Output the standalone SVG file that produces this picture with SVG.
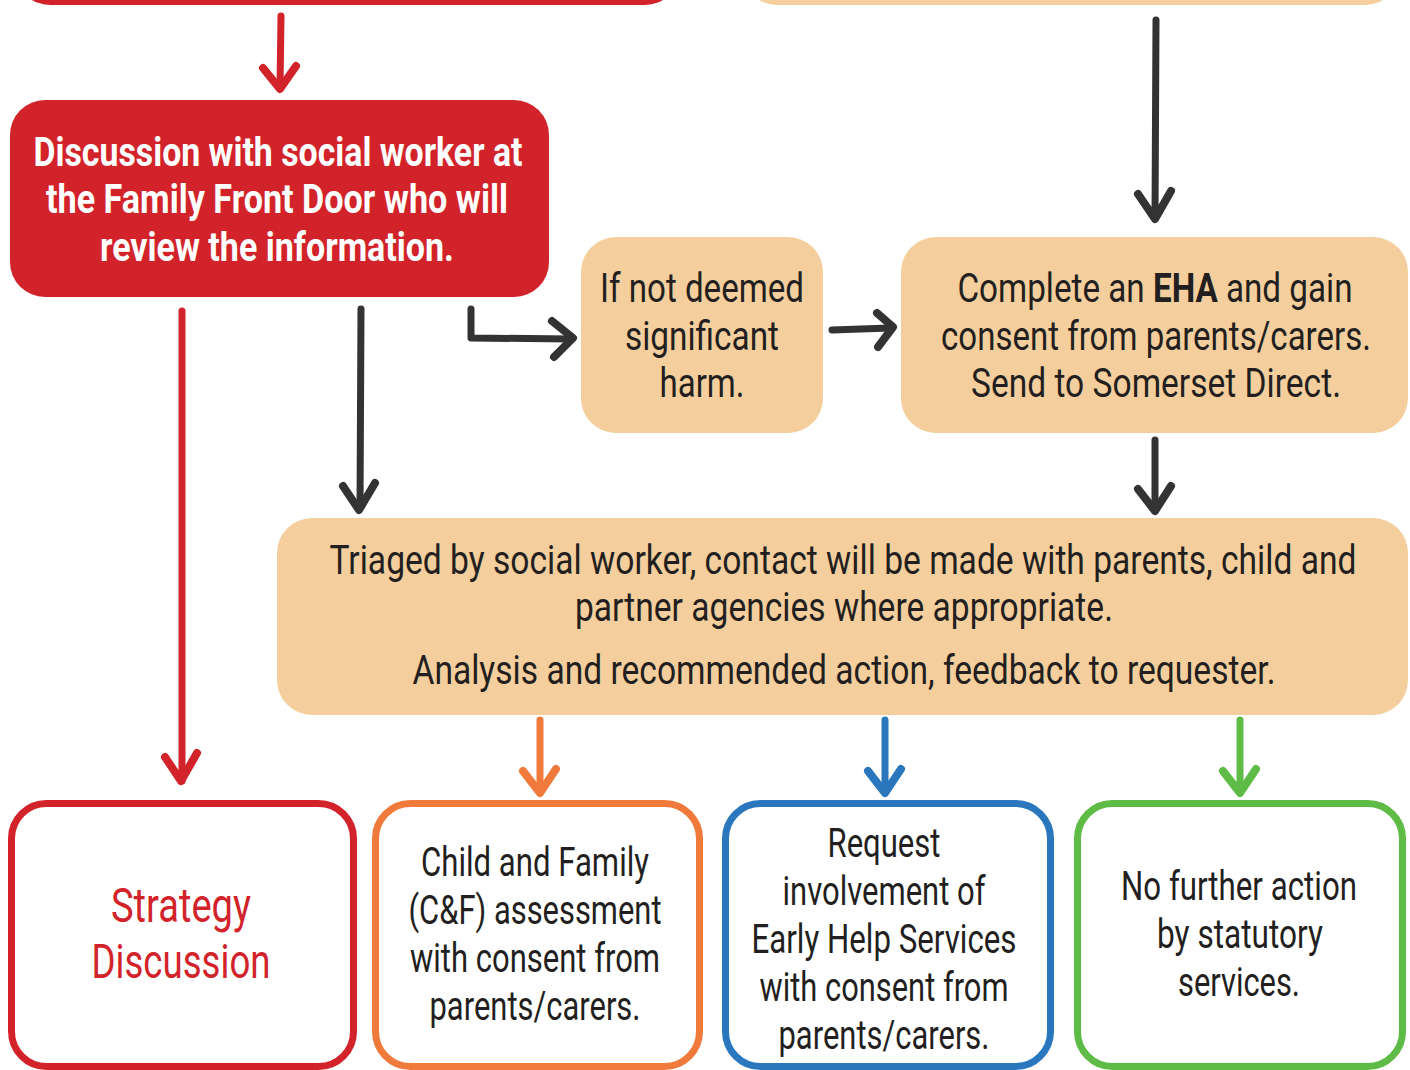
<svg xmlns="http://www.w3.org/2000/svg" width="1410" height="1070" viewBox="0 0 1410 1070">
<style>
text{font-family:Roboto,"Liberation Sans",sans-serif;font-size:40px;text-anchor:middle;fill:#231f20}
.w{fill:#fff;font-weight:bold}
.r{fill:#d2232a;font-size:48px}
.ar{fill:none;stroke-width:7;stroke-linecap:round;stroke-linejoin:round}
.hd{fill:none;stroke-width:8;stroke-linecap:round;stroke-linejoin:round}
.ob{fill:#fff;stroke-width:7}
</style>
<rect width="1410" height="1070" fill="#fff"/>
<g id="top-red"><rect x="15" y="-100" width="665" height="105" rx="35" fill="#d2232a"/></g>
<g id="top-peach"><rect x="742" y="-100" width="658" height="105" rx="35" fill="#f4cf9d"/></g>
<g id="discussion">
<rect x="10" y="100" width="539" height="197" rx="35" fill="#d2232a"/>
<text class="w" x="278" y="166" textLength="489" lengthAdjust="spacingAndGlyphs">Discussion with social worker at</text>
<text class="w" x="277" y="213" textLength="462" lengthAdjust="spacingAndGlyphs">the Family Front Door who will</text>
<text class="w" x="277" y="261" textLength="354" lengthAdjust="spacingAndGlyphs">review the information.</text>
</g>
<g id="not-deemed">
<rect x="581" y="237" width="242" height="196" rx="35" fill="#f4cf9d"/>
<text x="702" y="302" textLength="204" lengthAdjust="spacingAndGlyphs">If not deemed</text>
<text x="702" y="350" textLength="154" lengthAdjust="spacingAndGlyphs">significant</text>
<text x="702" y="397" textLength="85" lengthAdjust="spacingAndGlyphs">harm.</text>
</g>
<g id="eha">
<rect x="901" y="237" width="507" height="196" rx="35" fill="#f4cf9d"/>
<text x="1155" y="302" textLength="395" lengthAdjust="spacingAndGlyphs">Complete an <tspan font-weight="bold">EHA</tspan> and gain</text>
<text x="1156" y="350" textLength="430" lengthAdjust="spacingAndGlyphs">consent from parents/carers.</text>
<text x="1156" y="397" textLength="370" lengthAdjust="spacingAndGlyphs">Send to Somerset Direct.</text>
</g>
<g id="triage">
<rect x="277" y="518" width="1131" height="197" rx="35" fill="#f4cf9d"/>
<text x="843" y="574" textLength="1027" lengthAdjust="spacingAndGlyphs">Triaged by social worker, contact will be made with parents, child and</text>
<text x="844" y="621" textLength="538" lengthAdjust="spacingAndGlyphs">partner agencies where appropriate.</text>
<text x="844" y="684" textLength="863" lengthAdjust="spacingAndGlyphs">Analysis and recommended action, feedback to requester.</text>
</g>
<g id="strategy">
<rect class="ob" x="11.5" y="803.5" width="342" height="263" rx="35" stroke="#d2232a"/>
<text class="r" x="181" y="922" textLength="140" lengthAdjust="spacingAndGlyphs">Strategy</text>
<text class="r" x="181" y="978" textLength="179" lengthAdjust="spacingAndGlyphs">Discussion</text>
</g>
<g id="cf">
<rect class="ob" x="375.5" y="803.5" width="324" height="263" rx="35" stroke="#ef7a3c"/>
<text x="535" y="876" textLength="228" lengthAdjust="spacingAndGlyphs">Child and Family</text>
<text x="535" y="924" textLength="253" lengthAdjust="spacingAndGlyphs">(C&amp;F) assessment</text>
<text x="535" y="972" textLength="250" lengthAdjust="spacingAndGlyphs">with consent from</text>
<text x="535" y="1020" textLength="211" lengthAdjust="spacingAndGlyphs">parents/carers.</text>
</g>
<g id="early-help">
<rect class="ob" x="725.5" y="803.5" width="325" height="263" rx="35" stroke="#2a77bd"/>
<text x="884" y="857" textLength="113" lengthAdjust="spacingAndGlyphs">Request</text>
<text x="884" y="905" textLength="203" lengthAdjust="spacingAndGlyphs">involvement of</text>
<text x="884" y="953" textLength="265" lengthAdjust="spacingAndGlyphs">Early Help Services</text>
<text x="884" y="1001" textLength="249" lengthAdjust="spacingAndGlyphs">with consent from</text>
<text x="884" y="1049" textLength="211" lengthAdjust="spacingAndGlyphs">parents/carers.</text>
</g>
<g id="nfa">
<rect class="ob" x="1077.5" y="803.5" width="325" height="263" rx="35" stroke="#5dbb46"/>
<text x="1239" y="900" textLength="236" lengthAdjust="spacingAndGlyphs">No further action</text>
<text x="1240" y="948" textLength="166" lengthAdjust="spacingAndGlyphs">by statutory</text>
<text x="1239" y="996" textLength="122" lengthAdjust="spacingAndGlyphs">services.</text>
</g>
<g id="connectors">
<g stroke="#d2232a">
<path class="ar" d="M281,16 L280,88"/><path class="hd" d="M263,68 L280,89 L296,66"/>
<path class="ar" d="M182,311 L182,781" stroke-linecap="butt"/><path class="hd" d="M165,757 L181,781 L197,753"/>
</g>
<g stroke="#333">
<path class="ar" d="M1156,20 L1155,218" stroke-width="8" stroke-linecap="butt"/><path class="hd" d="M1138,194 L1155,219 L1171,191"/>
<path class="ar" d="M361,309 L360,508" stroke-linecap="butt"/><path class="hd" d="M343,486 L359,510 L375,483"/>
<path class="ar" d="M471,309 L471,338 L570,339" stroke-width="9" stroke-linecap="butt" stroke-linejoin="miter"/><path class="hd" d="M552,321 L573,338 L554,357" stroke-width="9"/>
<path class="ar" d="M832,330 L890,328" stroke-width="8"/><path class="hd" d="M877,313 L893,327 L878,347" stroke-width="8"/>
<path class="ar" d="M1155,440 L1155,508"/><path class="hd" d="M1138,489 L1155,511 L1171,486"/>
</g>
<g stroke="#ef7a3c"><path class="ar" d="M540,720 L540,792"/><path class="hd" d="M523,771 L540,793 L556,769"/></g>
<g stroke="#2a77bd"><path class="ar" d="M885,720 L885,792"/><path class="hd" d="M868,771 L885,793 L901,769"/></g>
<g stroke="#5dbb46"><path class="ar" d="M1240,720 L1240,792"/><path class="hd" d="M1223,771 L1240,793 L1256,769"/></g>
</g>
</svg>
